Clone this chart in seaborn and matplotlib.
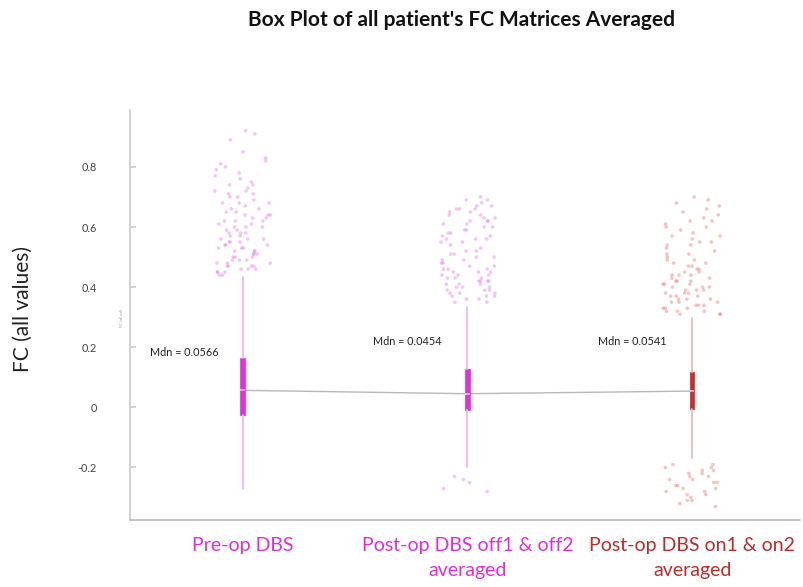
import numpy as np
import pandas as pd
import matplotlib
matplotlib.use("Agg")
import matplotlib.pyplot as plt
import seaborn as sns

# ---------------- data ----------------
groups = ["Pre-op DBS", "Post-op DBS off1 & off2\naveraged", "Post-op DBS on1 & on2\naveraged"]
medians = [0.0566, 0.0454, 0.0541]
q1 = [-0.025, -0.010, -0.004]
q3 = [0.165, 0.129, 0.118]
whisker_low = [-0.272, -0.199, -0.170]
whisker_high = [0.434, 0.334, 0.297]
median_labels = ["Mdn = 0.0566", "Mdn = 0.0454", "Mdn = 0.0541"]

outliers_pre = [0.92, 0.91, 0.89, 0.85, 0.83, 0.82, 0.81, 0.80, 0.79, 0.78, 0.77, 0.76,
                0.75, 0.74, 0.74, 0.73, 0.72, 0.72, 0.71, 0.70, 0.70, 0.69, 0.68, 0.68,
                0.67, 0.66, 0.66, 0.65, 0.65, 0.64, 0.64, 0.63, 0.63, 0.62, 0.62, 0.61,
                0.61, 0.60, 0.60, 0.59, 0.59, 0.58, 0.58, 0.57, 0.57, 0.56, 0.56, 0.55,
                0.55, 0.55, 0.54, 0.54, 0.53, 0.53, 0.53, 0.52, 0.52, 0.51, 0.51, 0.51,
                0.50, 0.50, 0.50, 0.49, 0.49, 0.49, 0.48, 0.48, 0.48, 0.47, 0.47, 0.47,
                0.46, 0.46, 0.46, 0.45, 0.45, 0.45, 0.44, 0.44, 0.56, 0.58, 0.62, 0.68,
                0.71, 0.64, 0.52, 0.47, 0.54, 0.60]
outliers_off = [0.70, 0.69, 0.69, 0.68, 0.67, 0.67, 0.66, 0.66, 0.65, 0.65, 0.64, 0.64,
                0.63, 0.63, 0.62, 0.62, 0.61, 0.61, 0.60, 0.60, 0.59, 0.59, 0.58, 0.58,
                0.57, 0.57, 0.56, 0.56, 0.55, 0.55, 0.54, 0.53, 0.52, 0.52, 0.51, 0.50,
                0.50, 0.49, 0.49, 0.48, 0.48, 0.47, 0.47, 0.46, 0.46, 0.45, 0.45, 0.45,
                0.44, 0.44, 0.44, 0.43, 0.43, 0.43, 0.42, 0.42, 0.42, 0.41, 0.41, 0.41,
                0.40, 0.40, 0.40, 0.39, 0.39, 0.39, 0.38, 0.38, 0.38, 0.37, 0.37, 0.37,
                0.36, 0.36, 0.35, 0.35, 0.42, 0.46, 0.51, 0.56, 0.62, 0.66,
                -0.23, -0.24, -0.25, -0.27, -0.28]
outliers_on = [0.70, 0.69, 0.68, 0.67, 0.66, 0.65, 0.64, 0.63, 0.62, 0.61, 0.60, 0.60,
               0.59, 0.58, 0.57, 0.57, 0.56, 0.55, 0.54, 0.54, 0.53, 0.52, 0.51, 0.51,
               0.50, 0.49, 0.49, 0.48, 0.47, 0.47, 0.46, 0.46, 0.45, 0.45, 0.44, 0.44,
               0.43, 0.43, 0.42, 0.42, 0.42, 0.41, 0.41, 0.41, 0.40, 0.40, 0.40, 0.39,
               0.39, 0.39, 0.38, 0.38, 0.38, 0.37, 0.37, 0.37, 0.36, 0.36, 0.36, 0.35,
               0.35, 0.35, 0.34, 0.34, 0.34, 0.33, 0.33, 0.33, 0.32, 0.32, 0.32, 0.31,
               0.31, 0.31, 0.44, 0.48, 0.55, 0.62,
               -0.19, -0.19, -0.20, -0.20, -0.21, -0.21, -0.22, -0.22, -0.23, -0.23,
               -0.24, -0.24, -0.25, -0.25, -0.26, -0.26, -0.27, -0.27, -0.28, -0.28,
               -0.29, -0.29, -0.30, -0.31, -0.31, -0.32, -0.33]

box_colors = ["#e030e0", "#e030e0", "#d42a2a"]
whisker_colors = ["#f2b4f2", "#f2b4f2", "#e8bcbc"]
point_colors = ["#e07ae8", "#e07ae8", "#ec7070"]
label_colors = ["#e62ad8", "#e62ad8", "#c0282a"]

# ---------------- figure ----------------
sns.set_theme(style="white")
plt.rcParams["font.family"] = ["Lato", "DejaVu Sans"]

fig = plt.figure(figsize=(8.04, 5.87), dpi=100)
ax = fig.add_axes([0.162, 0.114, 0.833, 0.699])

df = pd.DataFrame({
    "group": [groups[0]] * len(outliers_pre) + [groups[1]] * len(outliers_off) + [groups[2]] * len(outliers_on),
    "value": outliers_pre + outliers_off + outliers_on,
})

np.random.seed(3)
sns.stripplot(data=df, x="group", y="value", hue="group", order=groups,
              palette=dict(zip(groups, point_colors)), jitter=0.13, size=2.6,
              alpha=0.42, linewidth=0, legend=False, ax=ax, zorder=1)

# median connecting line
sns.lineplot(x=np.arange(len(groups)), y=medians, color="#b8b8b8", linewidth=1.0,
             ax=ax, zorder=2)

stats = []
for i in range(len(groups)):
    stats.append(dict(med=medians[i], q1=q1[i], q3=q3[i],
                      whislo=whisker_low[i], whishi=whisker_high[i], fliers=[]))
for i in range(len(groups)):
    ax.bxp([stats[i]], positions=[i], widths=0.02, showcaps=False, patch_artist=True,
           boxprops=dict(facecolor=box_colors[i], edgecolor=box_colors[i], linewidth=0.5),
           whiskerprops=dict(color=whisker_colors[i], linewidth=1.3),
           medianprops=dict(color="#f6c8f6", linewidth=1.2),
           manage_ticks=False, zorder=3)

for i, lab in enumerate(median_labels):
    xoff = [-0.41, -0.42, -0.42][i]
    yv = [0.183, 0.22, 0.22][i]
    ax.text(i + xoff, yv, lab, fontsize=7.8, color="#222222", ha="left", va="center")

ax.set_xlim(-0.5, 2.48)
ax.set_ylim(-0.375, 0.99)
ax.set_yticks([-0.2, 0, 0.2, 0.4, 0.6, 0.8])
ax.set_yticklabels(["-0.2", "0", "0.2", "0.4", "0.6", "0.8"])
ax.tick_params(axis="y", direction="in", length=4, color="#cccccc", pad=24,
               labelsize=7.8, labelcolor="#444444", left=True)
ax.set_xticks(range(len(groups)))
ax.set_xticklabels(groups, fontsize=14, linespacing=1.6)
ax.tick_params(axis="x", length=0, pad=12)
for t, c in zip(ax.get_xticklabels(), label_colors):
    t.set_color(c)
ax.set_xlabel("")
ax.set_ylabel("FC (all values)", fontsize=15, color="#222222")
ax.yaxis.set_label_coords(-0.146, 0.515)

for s in ["top", "right"]:
    ax.spines[s].set_visible(False)
ax.spines["left"].set_color("#cccccc")
ax.spines["bottom"].set_color("#bbbbbb")

fig.text(121 / 804, 1 - 318 / 587, "FC (all val)", fontsize=3, color="#999999",
         rotation=90, ha="center", va="center")
fig.text(462 / 804, 1 - 20 / 587, "Box Plot of all patient's FC Matrices Averaged",
         fontsize=15, fontweight="bold", color="#111111", ha="center", va="center")

fig.savefig("out.png", dpi=100)
